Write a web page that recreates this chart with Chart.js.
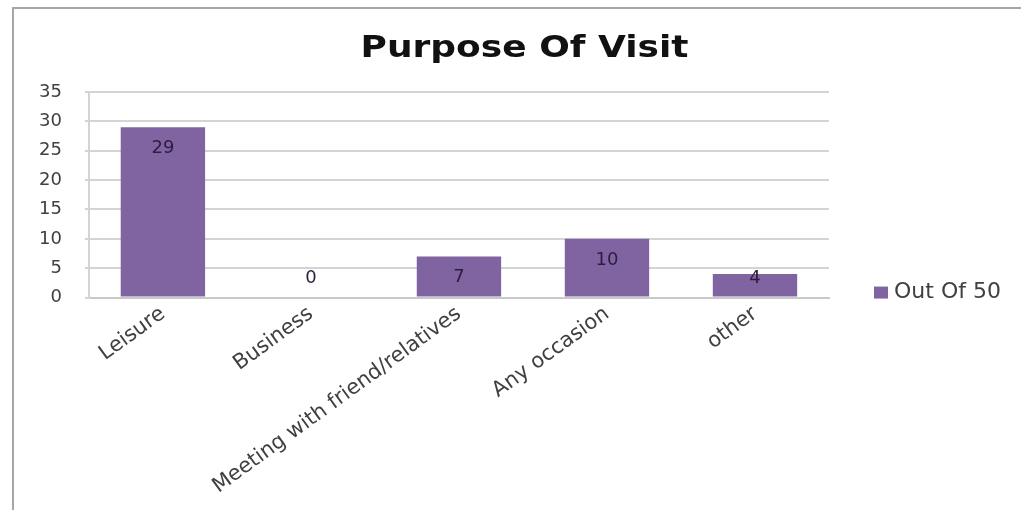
<!DOCTYPE html>
<html>
<head>
<meta charset="utf-8">
<script src="https://cdn.jsdelivr.net/npm/chart.js@4.4.1/dist/chart.umd.min.js"></script>
<style>
  html, body { margin: 0; padding: 0; background: #fff; }
  #frame {
    position: absolute; left: 12px; top: 7px;
    width: 1007px; height: 501px;
    border-left: 2px solid #a6a6a6; border-top: 2px solid #a6a6a6;
    border-bottom: 1px solid #e4e4e4;
  }
  canvas { display: block; }
</style>
</head>
<body>
<div id="frame"><canvas id="visitChart" width="1007" height="501"></canvas></div>
<script>
const categories = ['Leisure', 'Business', 'Meeting with friend/relatives', 'Any occasion', 'other'];
const seriesName = 'Out Of 50';
const seriesValues = [29, 0, 7, 10, 4];
const yTicks = [0, 5, 10, 15, 20, 25, 30, 35];
const chartTitle = 'Purpose Of Visit';

const barColor = '#8064a2';
const textFont = "'DejaVu Sans', Verdana, sans-serif";

// title drawn a bit wider than the font, like the stretched original
const wideTitle = {
    id: 'wideTitle',
    afterDraw(chart) {
        const ctx = chart.ctx;
        ctx.save();
        ctx.translate(chart.width / 2 + 7, 40);
        ctx.scale(1.2, 1);
        ctx.font = 'bold 30px ' + textFont;
        ctx.fillStyle = '#111';
        ctx.textAlign = 'center';
        ctx.textBaseline = 'middle';
        ctx.fillText(chartTitle, 0, 0);
        ctx.restore();
    }
};

// value labels just inside the top of each bar (like Excel "inside end")
const valueLabels = {
    id: 'valueLabels',
    afterDatasetsDraw(chart) {
        const ctx = chart.ctx;
        const meta = chart.getDatasetMeta(0);
        const base = chart.scales.y.getPixelForValue(0);
        ctx.save();
        ctx.font = '18px ' + textFont;
        ctx.fillStyle = '#2b1d3f';
        ctx.textAlign = 'center';
        ctx.textBaseline = 'middle';
        meta.data.forEach(function (bar, i) {
            const y = Math.min(bar.y + 21, base - 19);
            ctx.fillText(String(seriesValues[i]), bar.x, y);
        });
        ctx.restore();
    }
};

// legend on the right, level with the bottom of the plot
const sideLegend = {
    id: 'sideLegend',
    afterDraw(chart) {
        const ctx = chart.ctx;
        const area = chart.chartArea;
        const x = area.right + 45;
        const y = area.bottom - 5;
        ctx.save();
        ctx.fillStyle = barColor;
        ctx.fillRect(x, y - 6, 14, 12);
        ctx.font = '22px ' + textFont;
        ctx.fillStyle = '#404040';
        ctx.textAlign = 'left';
        ctx.textBaseline = 'middle';
        ctx.fillText(seriesName, x + 20, y);
        ctx.restore();
    }
};

new Chart(document.getElementById('visitChart'), {
    type: 'bar',
    data: {
        labels: categories,
        datasets: [{
            label: seriesName,
            data: seriesValues,
            backgroundColor: barColor,
            borderWidth: 0,
            categoryPercentage: 1,
            barPercentage: 0.57
        }]
    },
    options: {
        responsive: false,
        animation: false,
        layout: { padding: { left: 2, right: 192, top: 83, bottom: 15 } },
        scales: {
            x: {
                grid: { display: false },
                border: { color: '#c8c8c8', width: 2 },
                ticks: {
                    color: '#404040',
                    font: { family: textFont, size: 21 },
                    minRotation: 36,
                    maxRotation: 36,
                    autoSkip: false,
                    padding: -4
                }
            },
            y: {
                min: 0,
                max: 35,
                afterBuildTicks: function (axis) {
                    axis.ticks = yTicks.map(function (v) { return { value: v }; });
                },
                grid: { color: '#d4d4d4', lineWidth: 2, tickLength: 4 },
                border: { color: '#d4d4d4', width: 2 },
                ticks: {
                    color: '#404040',
                    font: { family: textFont, size: 18 },
                    padding: 23
                }
            }
        },
        plugins: {
            legend: { display: false },
            tooltip: { enabled: false },
            title: { display: false }
        }
    },
    plugins: [valueLabels, sideLegend, wideTitle]
});
</script>
</body>
</html>
